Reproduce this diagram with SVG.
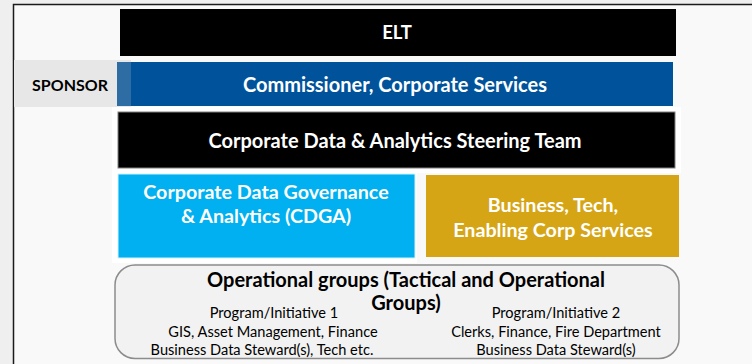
<svg xmlns="http://www.w3.org/2000/svg" width="752" height="364" viewBox="0 0 752 364">
<style>
.t{font-family:Lato,"Open Sans","Liberation Sans",sans-serif;text-anchor:middle}
.b{font-weight:bold}
.w{fill:#ffffff}
.k{fill:#000000}
</style>
<rect x="0" y="0" width="752" height="364" fill="#efefef"/>
<rect x="13" y="4" width="739" height="360" fill="#f9f9f9"/>
<path d="M13.5,364 V4.5 H752" fill="none" stroke="#1a1a1a" stroke-width="1.5"/>
<rect x="112" y="107" width="569" height="66" fill="#ffffff"/>
<rect x="112" y="173" width="305" height="90" fill="#ffffff"/>
<g id="elt">
<rect x="120" y="9" width="556" height="47" fill="#000000"/>
<text class="t b w" x="397" y="39" font-size="18.5">ELT</text>
</g>
<g id="sponsor">
<rect x="14" y="60" width="117" height="47" fill="#e7e7e7"/>
<text class="t b k" x="70" y="91" font-size="16">SPONSOR</text>
</g>
<g id="commissioner">
<rect x="117" y="62" width="556" height="44" fill="#00539b"/>
<rect x="117" y="62" width="14" height="44" fill="#2e6da4"/>
<text class="t b w" x="395" y="92" font-size="20">Commissioner, Corporate Services</text>
</g>
<g id="steering">
<rect x="118" y="112" width="557" height="56" fill="#000000" stroke="#808080" stroke-width="1"/>
<text class="t b w" x="395" y="148" font-size="20">Corporate Data &amp; Analytics Steering Team</text>
</g>
<g id="cdga">
<rect x="118" y="174" width="297" height="84" fill="#00b0f0" stroke="#d6f0fc" stroke-width="1"/>
<text class="t b w" x="266" y="199" font-size="19.7">Corporate Data Governance</text>
<text class="t b w" x="266" y="223" font-size="19.7">&amp; Analytics (CDGA)</text>
</g>
<g id="business">
<rect x="426" y="175" width="253" height="82" fill="#d6a515"/>
<text class="t b w" x="553" y="212" font-size="19.7">Business, Tech,</text>
<text class="t b w" x="553" y="237" font-size="19.7">Enabling Corp Services</text>
</g>
<g id="operational">
<rect x="115" y="265" width="564" height="93.5" rx="20" ry="20" fill="#f2f2f2" stroke="#8c8c8c" stroke-width="1.5"/>
<text class="t b k" x="406" y="287" font-size="20">Operational groups (Tactical and Operational</text>
<text class="t b k" x="406" y="310" font-size="20">Groups)</text>
<text class="t k" x="274" y="318" font-size="14.6">Program/Initiative 1</text>
<text class="t k" x="273" y="337" font-size="14.6">GIS, Asset Management, Finance</text>
<text class="t k" x="262" y="355" font-size="14.6">Business Data Steward(s), Tech etc.</text>
<text class="t k" x="556" y="318" font-size="14.6">Program/Initiative 2</text>
<text class="t k" x="556" y="337" font-size="14.6">Clerks, Finance, Fire Department</text>
<text class="t k" x="556" y="355" font-size="14.6">Business Data Steward(s)</text>
</g>
<g id="connectors"></g>
</svg>
